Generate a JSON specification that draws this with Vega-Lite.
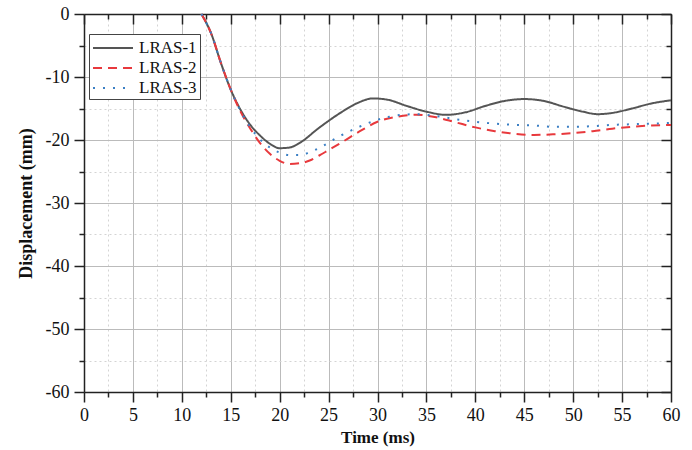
{
  "$schema": "https://vega.github.io/schema/vega-lite/v6.json",
  "width": 587,
  "height": 378,
  "autosize": "none",
  "padding": {"left": 84, "top": 14, "right": 21, "bottom": 58},
  "background": "white",
  "config": {
    "view": {"stroke": null},
    "font": "Liberation Serif, Times New Roman, serif"
  },
  "datasets": {
    "curves": [
      {"t": 12, "d": 0, "s": "LRAS-1"},
      {"t": 13, "d": -3.1, "s": "LRAS-1"},
      {"t": 14, "d": -7.8, "s": "LRAS-1"},
      {"t": 15, "d": -12.0, "s": "LRAS-1"},
      {"t": 16, "d": -15.2, "s": "LRAS-1"},
      {"t": 17, "d": -17.6, "s": "LRAS-1"},
      {"t": 18, "d": -19.3, "s": "LRAS-1"},
      {"t": 19, "d": -20.6, "s": "LRAS-1"},
      {"t": 20, "d": -21.3, "s": "LRAS-1"},
      {"t": 21, "d": -21.2, "s": "LRAS-1"},
      {"t": 22, "d": -20.5, "s": "LRAS-1"},
      {"t": 24, "d": -18.1, "s": "LRAS-1"},
      {"t": 26, "d": -15.9, "s": "LRAS-1"},
      {"t": 28, "d": -14.1, "s": "LRAS-1"},
      {"t": 29.5, "d": -13.4, "s": "LRAS-1"},
      {"t": 31, "d": -13.6, "s": "LRAS-1"},
      {"t": 33, "d": -14.6, "s": "LRAS-1"},
      {"t": 35, "d": -15.5, "s": "LRAS-1"},
      {"t": 37, "d": -16.0, "s": "LRAS-1"},
      {"t": 39, "d": -15.6, "s": "LRAS-1"},
      {"t": 41, "d": -14.6, "s": "LRAS-1"},
      {"t": 43, "d": -13.8, "s": "LRAS-1"},
      {"t": 45, "d": -13.5, "s": "LRAS-1"},
      {"t": 47, "d": -13.8, "s": "LRAS-1"},
      {"t": 49, "d": -14.7, "s": "LRAS-1"},
      {"t": 51, "d": -15.5, "s": "LRAS-1"},
      {"t": 52.5, "d": -15.9, "s": "LRAS-1"},
      {"t": 54, "d": -15.7, "s": "LRAS-1"},
      {"t": 56, "d": -15.0, "s": "LRAS-1"},
      {"t": 58, "d": -14.2, "s": "LRAS-1"},
      {"t": 60, "d": -13.7, "s": "LRAS-1"},

      {"t": 12, "d": 0, "s": "LRAS-2"},
      {"t": 13, "d": -3.1, "s": "LRAS-2"},
      {"t": 14, "d": -7.8, "s": "LRAS-2"},
      {"t": 15, "d": -12.0, "s": "LRAS-2"},
      {"t": 16, "d": -15.5, "s": "LRAS-2"},
      {"t": 17, "d": -18.2, "s": "LRAS-2"},
      {"t": 18, "d": -20.5, "s": "LRAS-2"},
      {"t": 19, "d": -22.2, "s": "LRAS-2"},
      {"t": 20, "d": -23.3, "s": "LRAS-2"},
      {"t": 21, "d": -23.8, "s": "LRAS-2"},
      {"t": 22, "d": -23.7, "s": "LRAS-2"},
      {"t": 23, "d": -23.3, "s": "LRAS-2"},
      {"t": 24, "d": -22.5, "s": "LRAS-2"},
      {"t": 25, "d": -21.6, "s": "LRAS-2"},
      {"t": 26, "d": -20.7, "s": "LRAS-2"},
      {"t": 28, "d": -18.8, "s": "LRAS-2"},
      {"t": 30, "d": -17.1, "s": "LRAS-2"},
      {"t": 32, "d": -16.3, "s": "LRAS-2"},
      {"t": 34, "d": -16.0, "s": "LRAS-2"},
      {"t": 36, "d": -16.4, "s": "LRAS-2"},
      {"t": 38, "d": -17.2, "s": "LRAS-2"},
      {"t": 40, "d": -18.0, "s": "LRAS-2"},
      {"t": 42, "d": -18.6, "s": "LRAS-2"},
      {"t": 44, "d": -19.0, "s": "LRAS-2"},
      {"t": 46, "d": -19.2, "s": "LRAS-2"},
      {"t": 48, "d": -19.1, "s": "LRAS-2"},
      {"t": 50, "d": -18.9, "s": "LRAS-2"},
      {"t": 52, "d": -18.6, "s": "LRAS-2"},
      {"t": 54, "d": -18.2, "s": "LRAS-2"},
      {"t": 56, "d": -17.9, "s": "LRAS-2"},
      {"t": 58, "d": -17.7, "s": "LRAS-2"},
      {"t": 60, "d": -17.6, "s": "LRAS-2"},

      {"t": 12, "d": 0, "s": "LRAS-3"},
      {"t": 13, "d": -3.1, "s": "LRAS-3"},
      {"t": 14, "d": -7.8, "s": "LRAS-3"},
      {"t": 15, "d": -12.0, "s": "LRAS-3"},
      {"t": 16, "d": -15.4, "s": "LRAS-3"},
      {"t": 17, "d": -18.0, "s": "LRAS-3"},
      {"t": 18, "d": -19.9, "s": "LRAS-3"},
      {"t": 19, "d": -21.2, "s": "LRAS-3"},
      {"t": 20, "d": -22.0, "s": "LRAS-3"},
      {"t": 21, "d": -22.4, "s": "LRAS-3"},
      {"t": 22, "d": -22.4, "s": "LRAS-3"},
      {"t": 23, "d": -22.0, "s": "LRAS-3"},
      {"t": 24, "d": -21.3, "s": "LRAS-3"},
      {"t": 26, "d": -19.5, "s": "LRAS-3"},
      {"t": 28, "d": -18.0, "s": "LRAS-3"},
      {"t": 30, "d": -16.8, "s": "LRAS-3"},
      {"t": 32, "d": -16.1, "s": "LRAS-3"},
      {"t": 34, "d": -15.9, "s": "LRAS-3"},
      {"t": 36, "d": -16.2, "s": "LRAS-3"},
      {"t": 38, "d": -16.7, "s": "LRAS-3"},
      {"t": 40, "d": -17.1, "s": "LRAS-3"},
      {"t": 42, "d": -17.4, "s": "LRAS-3"},
      {"t": 44, "d": -17.6, "s": "LRAS-3"},
      {"t": 46, "d": -17.7, "s": "LRAS-3"},
      {"t": 48, "d": -17.9, "s": "LRAS-3"},
      {"t": 50, "d": -17.9, "s": "LRAS-3"},
      {"t": 52, "d": -17.8, "s": "LRAS-3"},
      {"t": 54, "d": -17.6, "s": "LRAS-3"},
      {"t": 56, "d": -17.5, "s": "LRAS-3"},
      {"t": 58, "d": -17.4, "s": "LRAS-3"},
      {"t": 60, "d": -17.3, "s": "LRAS-3"}
    ]
  },
  "data": {"name": "curves"},
  "resolve": {"axis": {"x": "independent", "y": "independent"}},
  "layer": [
    {
      "mark": {"type": "line", "interpolate": "monotone", "strokeWidth": 2},
      "encoding": {
        "x": {
          "field": "t", "type": "quantitative",
          "scale": {"domain": [0, 60], "nice": false, "zero": false},
          "axis": {
            "orient": "bottom",
            "title": "Time (ms)",
            "values": [0, 2.5, 5, 7.5, 10, 12.5, 15, 17.5, 20, 22.5, 25, 27.5, 30, 32.5, 35, 37.5, 40, 42.5, 45, 47.5, 50, 52.5, 55, 57.5, 60],
            "labelExpr": "datum.value % 5 === 0 ? '' + datum.value : ''",
            "labelOverlap": false,
            "labelFlush": false,
            "labelFont": "Liberation Serif, Times New Roman, serif",
            "labelFontSize": 18,
            "labelColor": "#111",
            "labelPadding": 4,
            "titleFont": "Liberation Serif, Times New Roman, serif",
            "titleFontSize": 17,
            "titleFontWeight": "bold",
            "titleColor": "#111",
            "titlePadding": 5,
            "domainColor": "#222",
            "domainWidth": 1.5,
            "tickColor": "#222",
            "tickWidth": 1.5,
            "tickSize": {"condition": {"test": "datum.value % 5 === 0", "value": 10}, "value": 5},
            "grid": true,
            "gridColor": {"condition": {"test": "datum.value % 5 === 0", "value": "#bbbbbb"}, "value": "#d4d4d4"},
            "gridDash": {"condition": {"test": "datum.value % 5 === 0", "value": []}, "value": [2, 3]},
            "gridWidth": 1
          }
        },
        "y": {
          "field": "d", "type": "quantitative",
          "scale": {"domain": [-60, 0], "nice": false, "zero": false},
          "axis": {
            "orient": "left",
            "title": "Displacement (mm)",
            "values": [-60, -55, -50, -45, -40, -35, -30, -25, -20, -15, -10, -5, 0],
            "labelExpr": "datum.value % 10 === 0 ? '' + datum.value : ''",
            "labelOverlap": false,
            "labelFlush": false,
            "labelFont": "Liberation Serif, Times New Roman, serif",
            "labelFontSize": 18,
            "labelColor": "#111",
            "labelPadding": 5,
            "titleFont": "Liberation Serif, Times New Roman, serif",
            "titleFontSize": 18,
            "titleFontWeight": "bold",
            "titleColor": "#111",
            "titlePadding": 10,
            "domainColor": "#222",
            "domainWidth": 1.5,
            "tickColor": "#222",
            "tickWidth": 1.5,
            "tickSize": {"condition": {"test": "datum.value % 10 === 0", "value": 10}, "value": 5},
            "grid": true,
            "gridColor": {"condition": {"test": "datum.value % 10 === 0", "value": "#bbbbbb"}, "value": "#d4d4d4"},
            "gridDash": {"condition": {"test": "datum.value % 10 === 0", "value": []}, "value": [2, 3]},
            "gridWidth": 1
          }
        },
        "color": {
          "field": "s", "type": "nominal",
          "scale": {"domain": ["LRAS-1", "LRAS-2", "LRAS-3"], "range": ["#555555", "#e8393d", "#3b7fc4"]},
          "legend": {
            "orient": "none",
            "legendX": 5,
            "legendY": 20,
            "title": null,
            "strokeColor": "#444444",
            "fillColor": "white",
            "padding": 3,
            "rowPadding": 1,
            "symbolType": "M-1,0H3",
            "symbolSize": 400,
            "symbolStrokeWidth": 2,
            "symbolFillColor": "transparent",
            "labelFont": "Liberation Serif, Times New Roman, serif",
            "labelFontSize": 17,
            "labelColor": "#111",
            "labelOffset": 25
          }
        },
        "strokeDash": {
          "field": "s", "type": "nominal",
          "scale": {"domain": ["LRAS-1", "LRAS-2", "LRAS-3"], "range": [[1, 0], [9, 6], [2, 8]]},
          "legend": null
        }
      }
    },
    {
      "mark": {"type": "line", "opacity": 0},
      "encoding": {
        "x": {
          "field": "t", "type": "quantitative",
          "axis": {
            "orient": "top",
            "title": null,
            "labels": false,
            "grid": false,
            "values": [0, 2.5, 5, 7.5, 10, 12.5, 15, 17.5, 20, 22.5, 25, 27.5, 30, 32.5, 35, 37.5, 40, 42.5, 45, 47.5, 50, 52.5, 55, 57.5, 60],
            "domainColor": "#222",
            "domainWidth": 1.5,
            "tickColor": "#222",
            "tickWidth": 1.5,
            "tickSize": {"condition": {"test": "datum.value % 5 === 0", "value": -10}, "value": -5}
          }
        },
        "y": {
          "field": "d", "type": "quantitative",
          "axis": {
            "orient": "right",
            "title": null,
            "labels": false,
            "grid": false,
            "values": [-60, -55, -50, -45, -40, -35, -30, -25, -20, -15, -10, -5, 0],
            "domainColor": "#222",
            "domainWidth": 1.5,
            "tickColor": "#222",
            "tickWidth": 1.5,
            "tickSize": {"condition": {"test": "datum.value % 10 === 0", "value": -10}, "value": -5}
          }
        }
      }
    }
  ]
}
